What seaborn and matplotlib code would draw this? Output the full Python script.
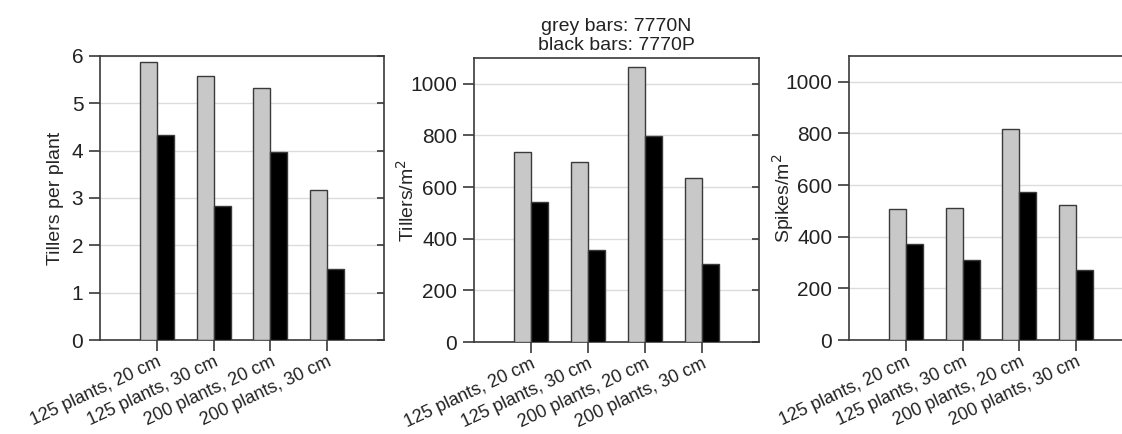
import matplotlib
matplotlib.use("Agg")
import matplotlib.pyplot as plt
import pandas as pd
import seaborn as sns

# treatments on the x axis
groups = ["125 plants, 20 cm", "125 plants, 30 cm", "200 plants, 20 cm", "200 plants, 30 cm"]
lines = ["7770N", "7770P"]

# (grey = 7770N, black = 7770P)
tillers_plant_n = [5.87, 5.58, 5.33, 3.16]
tillers_plant_p = [4.33, 2.83, 3.97, 1.51]
tillers_m2_n = [735, 699, 1067, 634]
tillers_m2_p = [543, 355, 797, 301]
spikes_m2_n = [507, 510, 818, 524]
spikes_m2_p = [373, 308, 573, 270]

ylabels = ["Tillers per plant", "Tillers/m$^2$", "Spikes/m$^2$"]
yticks = [[0, 1, 2, 3, 4, 5, 6], [0, 200, 400, 600, 800, 1000], [0, 200, 400, 600, 800, 1000]]
ylims = [(0, 6), (0, 1100), (0, 1100)]


def long_table(n_vals, p_vals):
    return pd.DataFrame({
        "group": groups * 2,
        "line": [lines[0]] * len(groups) + [lines[1]] * len(groups),
        "value": list(n_vals) + list(p_vals),
    })


tables = [
    long_table(tillers_plant_n, tillers_plant_p),
    long_table(tillers_m2_n, tillers_m2_p),
    long_table(spikes_m2_n, spikes_m2_p),
]

sns.set_style("white")
plt.rcParams["font.family"] = ["Liberation Sans", "DejaVu Sans"]
plt.rcParams["text.color"] = "#222222"

fig = plt.figure(figsize=(11.22, 4.34), dpi=100)
W, H = 1122, 434
boxes = [(100, 56, 284, 284), (474, 58, 285, 284), (849, 56, 284, 284)]
label_x = [-0.127, -0.197, -0.187]
edge = "#3a3a3a"

for i, (df, (x0, y0, w, h)) in enumerate(zip(tables, boxes)):
    ax = fig.add_axes([x0 / W, (H - y0 - h) / H, w / W, h / H])
    sns.barplot(data=df, x="group", y="value", hue="line", order=groups,
                hue_order=lines, palette=["#c8c8c8", "#000000"], width=0.6,
                edgecolor=edge, linewidth=1.0, legend=False, ax=ax, zorder=3)
    ax.set_xlim(-1, 4)
    ax.set_ylim(*ylims[i])
    ax.set_yticks(yticks[i])
    ax.yaxis.grid(True, color="#dcdcdc", linewidth=1.0, zorder=0)
    ax.set_axisbelow(True)
    for s in ax.spines.values():
        s.set_color(edge)
        s.set_linewidth(1.2)
    ax.tick_params(axis="y", direction="out", length=8, width=1.2, color=edge,
                   labelsize=15, labelcolor="#222222", pad=4, left=True)
    ax.tick_params(axis="x", direction="out", length=8, width=1.2, color=edge,
                   labelsize=13, labelcolor="#222222", pad=2, bottom=True)
    ax.set_xlabel("")
    ax.set_ylabel(ylabels[i], fontsize=14)
    ax.yaxis.set_label_coords(label_x[i], 0.5)
    ax.set_xticks(range(len(groups)))
    ax.set_xticklabels(groups, rotation=25, ha="right", rotation_mode="anchor")

    # inward ticks on the right frame
    axr = ax.twinx()
    axr.set_ylim(*ylims[i])
    axr.set_yticks(yticks[i])
    axr.tick_params(axis="y", direction="in", length=5, width=1.2, color=edge,
                    labelright=False)
    for s in axr.spines.values():
        s.set_visible(False)

    if i == 1:
        ax.set_title("grey bars: 7770N\nblack bars: 7770P", fontsize=14,
                     linespacing=1.1, pad=6)

fig.savefig("out.png", dpi=100)
